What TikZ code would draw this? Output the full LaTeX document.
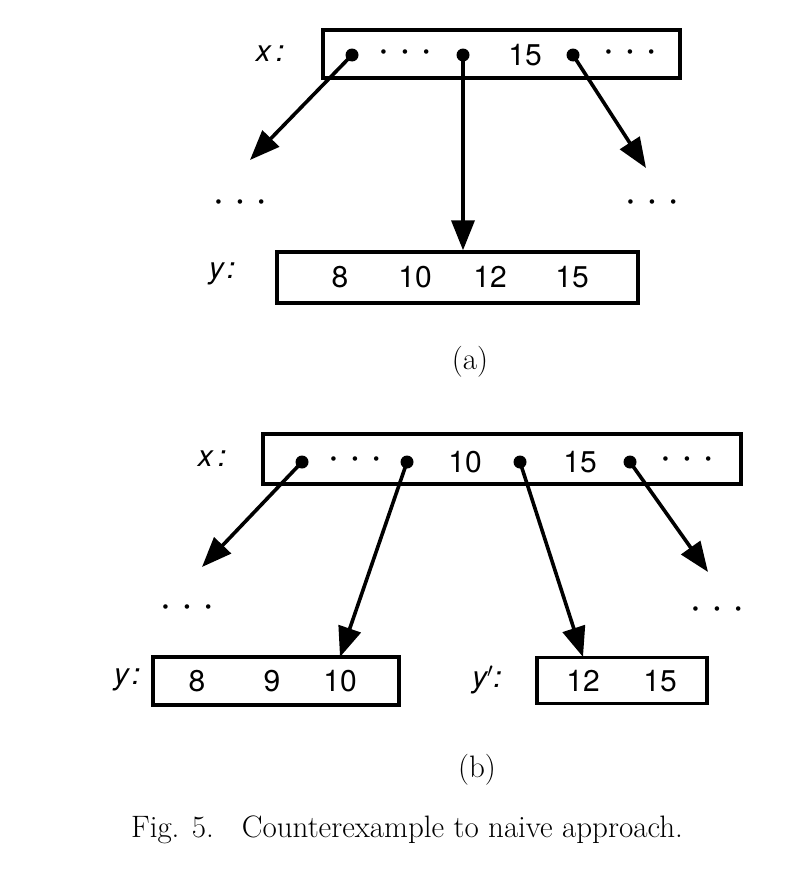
\documentclass[tikz,border=0pt]{standalone}
\usepackage{fontspec}
\setsansfont{TeX Gyre Heros}
\usetikzlibrary{arrows.meta}
\newcommand{\threedots}{{\bfseries\textperiodcentered\hspace{13pt}\textperiodcentered\hspace{13pt}\textperiodcentered}}

\begin{document}
\begin{tikzpicture}[
    x=1pt,y=-1pt,
    box/.style={draw,line width=3.4pt,inner sep=0pt},
    key/.style={font=\sffamily\fontsize{30}{34}\selectfont,inner sep=0pt},
    lbl/.style={font=\sffamily\itshape\fontsize{30}{34}\selectfont,inner sep=0pt},
    ptr/.style={circle,fill,inner sep=0pt,minimum size=13pt},
    link/.style={line width=3.6pt,-{Triangle[length=30pt,width=23pt]}},
    sub/.style={font=\fontsize{31}{36}\selectfont,inner sep=0pt}
]
\useasboundingbox (0,0) rectangle (788,870);

% (a) before the split
\node[box,minimum width=357pt,minimum height=48pt] (xa) at (501.5,54) {};
\node[lbl] (xalbl) at (270,54) {x\hspace{5pt}:};
\node[ptr] (a1) at (352,55) {};
\node[key] (adots) at (405,55) {\threedots};
\node[ptr] (a2) at (463,55) {};
\node[key] (a15) at (525,55) {15};
\node[ptr] (a3) at (573,55) {};
\node[key] (adots2) at (630,55) {\threedots};

\node[box,minimum width=361pt,minimum height=51pt] (ya) at (457.5,277.5) {};
\node[lbl] (yalbl) at (222,274) {y\hspace{3pt}:};
\foreach \v/\px in {8/340,10/415,12/490,15/572}
    \node[key] (ya\v) at (\px,277) {\v};

\coordinate (aleft) at (250,160);
\coordinate (aright) at (646,168);
\node[key] (aetcl) at (240,205) {\threedots};
\node[key] (aetcr) at (652,205) {\threedots};

\draw[link] (a1.center) -- (aleft);
\draw[link] (a2.center) -- (a2.center |- ya.north);
\draw[link] (a3.center) -- (aright);

\node[sub] (capa) at (470,362) {(a)};

% (b) after the split
\node[box,minimum width=478pt,minimum height=50pt] (xb) at (502,459) {};
\node[lbl] (xblbl) at (212,459) {x\hspace{5pt}:};
\node[ptr] (b1) at (302,462) {};
\node[key] (bdots) at (355,462) {\threedots};
\node[ptr] (b2) at (407,462) {};
\node[key] (b10) at (465,462) {10};
\node[ptr] (b3) at (520,462) {};
\node[key] (b15) at (580,462) {15};
\node[ptr] (b4) at (630,462) {};
\node[key] (bdots2) at (687,462) {\threedots};

\node[box,minimum width=246pt,minimum height=48pt] (yb) at (276,681) {};
\node[lbl] (yblbl) at (127,680) {y\hspace{3pt}:};
\foreach \v/\px in {8/197,9/272,10/340}
    \node[key] (yb\v) at (\px,681) {\v};

\node[box,minimum width=170pt,minimum height=46pt] (ybp) at (622,680.5) {};
\node[lbl] (ybplbl) at (487,680) {y$'$:};
\foreach \v/\px in {12/583,15/660}
    \node[key] (ybp\v) at (\px,681) {\v};

\coordinate (bleft) at (202,567);
\coordinate (bright) at (708,572);
\coordinate (btip1) at (340,657);
\coordinate (btip2) at (583,657);
\node[key] (betcl) at (187,610) {\threedots};
\node[key] (betcr) at (717,612) {\threedots};

\draw[link] (b1.center) -- (bleft);
\draw[link] (b2.center) -- (btip1);
\draw[link] (b3.center) -- (btip2);
\draw[link] (b4.center) -- (bright);

\node[sub] (capb) at (477,770) {(b)};

\node[sub] (fig) at (407,830) {Fig. 5.\hspace{28pt}Counterexample to naive approach.};
\end{tikzpicture}
\end{document}
